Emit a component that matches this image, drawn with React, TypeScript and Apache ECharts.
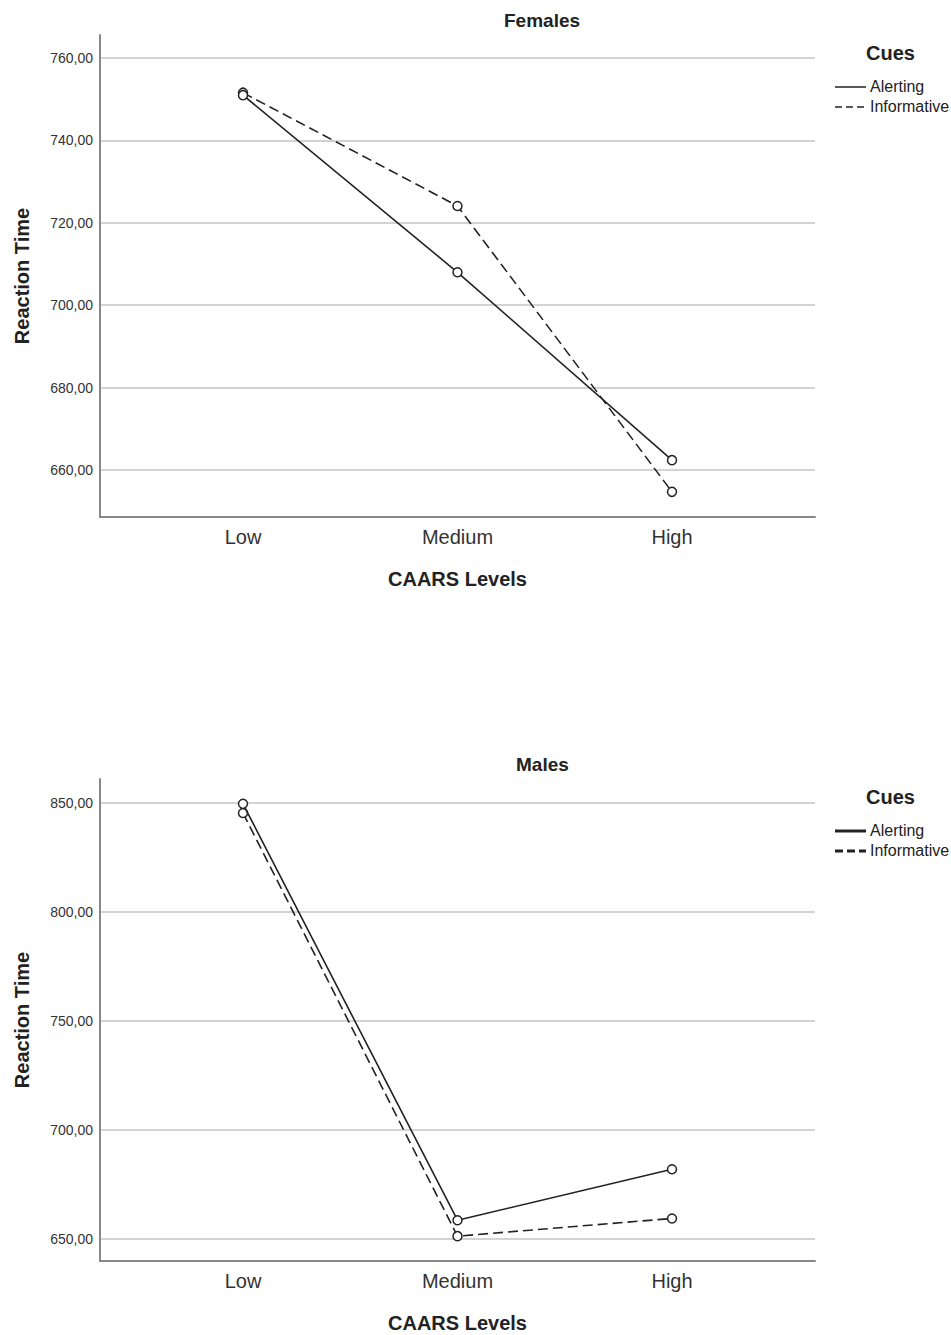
import React, { useEffect, useRef } from "react";
import * as echarts from "echarts";

const categories = ["Low", "Medium", "High"];
const femalesAlerting = [751.0, 708.0, 662.4];
const femalesInformative = [751.6, 724.1, 654.7];
const malesAlerting = [849.6, 658.7, 682.1];
const malesInformative = [845.4, 651.4, 659.5];
const femalesTicks = [660, 680, 700, 720, 740, 760];
const malesTicks = [650, 700, 750, 800, 850];

const FONT = "'Liberation Sans', Arial, sans-serif";
const INK = "#222";

const toPoints = (vals: number[]) => vals.map((v, i) => [i, v]);

export default function App() {
  const ref = useRef<HTMLDivElement>(null);
  useEffect(() => {
    if (!ref.current) return;
    const chart = echarts.init(ref.current, undefined, { renderer: "svg" });

    const grids = [
      { left: 100, top: 35, width: 715, height: 482 },
      { left: 100, top: 779, width: 715, height: 482 },
    ];

    const xAxisBase = (gridIndex: number) => ({
      type: "value",
      gridIndex,
      min: -2 / 3,
      max: 8 / 3,
      name: "CAARS Levels",
      nameLocation: "middle",
      nameGap: 52,
      nameTextStyle: { fontFamily: FONT, fontSize: 20, fontWeight: "bold", color: INK },
      axisLine: { show: true, onZero: false, lineStyle: { color: "#888", width: 2 } },
      axisTick: { show: false },
      splitLine: { show: false },
      axisLabel: {
        customValues: [0, 1, 2],
        formatter: (v: number) => categories[Math.round(v)] ?? "",
        fontFamily: FONT,
        fontSize: 20,
        color: "#333",
        margin: 10,
      },
    });

    const yAxisBase = (gridIndex: number, min: number, max: number, ticks: number[]) => ({
      type: "value",
      gridIndex,
      min,
      max,
      name: "Reaction Time",
      nameLocation: "middle",
      nameRotate: 90,
      nameGap: 68,
      nameTextStyle: { fontFamily: FONT, fontSize: 20, fontWeight: "bold", color: INK },
      axisLine: { show: true, onZero: false, lineStyle: { color: "#888", width: 2 } },
      axisTick: { show: false, customValues: ticks },
      splitLine: { show: true, lineStyle: { color: "#c4c4c4", width: 1.5 } },
      axisLabel: {
        customValues: ticks,
        formatter: (v: number) => v.toFixed(2).replace(".", ","),
        fontFamily: FONT,
        fontSize: 14,
        color: "#333",
        margin: 7,
      },
    });

    const lineSeries = (
      name: string,
      vals: number[],
      idx: number,
      dashed: boolean
    ) => ({
      type: "line",
      name,
      xAxisIndex: idx,
      yAxisIndex: idx,
      data: toPoints(vals),
      symbol: "circle",
      symbolSize: 9,
      showSymbol: true,
      itemStyle: { color: "#fff", borderColor: INK, borderWidth: 1.5 },
      lineStyle: { color: INK, width: 1.6, type: dashed ? [10, 5] : "solid" },
      z: dashed ? 3 : 4,
    });

    const legend = (top: number, width: number, dash: number[]) => [
      {
        type: "text",
        left: 866,
        top: top - 11,
        style: { text: "Cues", font: `bold 20px ${FONT}`, fill: INK },
      },
      {
        type: "line",
        shape: { x1: 835, y1: top + 33, x2: 866, y2: top + 33 },
        style: { stroke: INK, lineWidth: width },
      },
      {
        type: "text",
        left: 870,
        top: top + 24,
        style: { text: "Alerting", font: `16px ${FONT}`, fill: INK },
      },
      {
        type: "line",
        shape: { x1: 835, y1: top + 53, x2: 866, y2: top + 53 },
        style: { stroke: INK, lineWidth: width, lineDash: dash },
      },
      {
        type: "text",
        left: 870,
        top: top + 44,
        style: { text: "Informative", font: `16px ${FONT}`, fill: INK },
      },
    ];

    chart.setOption({
      animation: false,
      backgroundColor: "#fff",
      title: [
        {
          text: "Females",
          left: 499,
          top: 6,
          textStyle: { fontFamily: FONT, fontSize: 19, fontWeight: "bold", color: INK },
        },
        {
          text: "Males",
          left: 511,
          top: 750,
          textStyle: { fontFamily: FONT, fontSize: 19, fontWeight: "bold", color: INK },
        },
      ],
      grid: grids,
      xAxis: [xAxisBase(0), xAxisBase(1)],
      yAxis: [
        yAxisBase(0, 648.6, 765.6, femalesTicks),
        yAxisBase(1, 640, 861, malesTicks),
      ],
      series: [
        lineSeries("Alerting", femalesAlerting, 0, false),
        lineSeries("Informative", femalesInformative, 0, true),
        lineSeries("Alerting", malesAlerting, 1, false),
        lineSeries("Informative", malesInformative, 1, true),
      ],
      graphic: [...legend(54, 1.5, [7, 4]), ...legend(798, 3, [8, 4])],
    });

    return () => chart.dispose();
  }, []);

  return (
    <div
      ref={ref}
      style={{ position: "fixed", left: 0, top: 0, width: 951, height: 1335, background: "#fff" }}
    />
  );
}
